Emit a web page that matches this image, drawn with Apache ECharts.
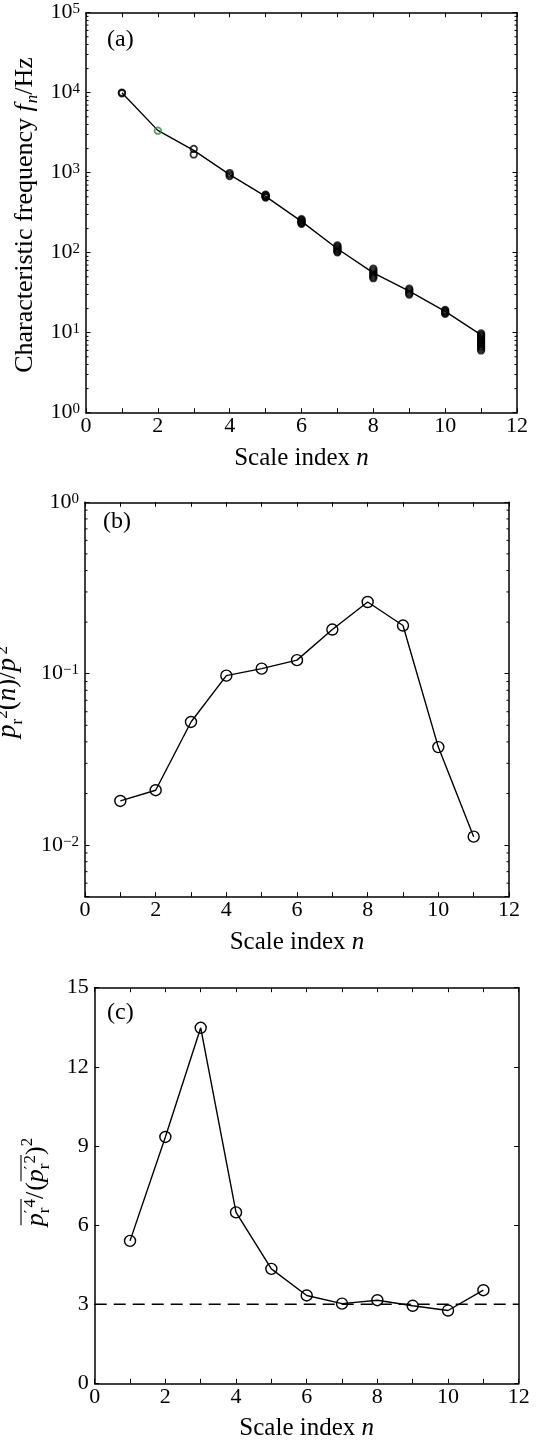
<!DOCTYPE html>
<html>
<head>
<meta charset="utf-8">
<script src="https://cdn.jsdelivr.net/npm/echarts@6/dist/echarts.min.js"></script>
<style>
html,body{margin:0;padding:0;background:#fff;}
#c{width:543px;height:1441px;}
</style>
</head>
<body>
<div id="c"></div>
<script>
// ---------------- data ----------------
const scaleIndex = [1, 2, 3, 4, 5, 6, 7, 8, 9, 10, 11];
const xTickValues = [0, 2, 4, 6, 8, 10, 12];

// (a) characteristic frequency: connecting line (Hz)
const freqLine = [10000, 3380, 1900, 945, 505, 246, 112, 56, 33, 18.5, 9.4];
// (a) individual characteristic frequencies at each scale index [n, Hz]
const freqPoints = [
  [1, 10000], [1, 9850],
  [3, 1980], [3, 1690],
  [4, 990], [4, 945], [4, 905],
  [5, 532], [5, 520], [5, 510], [5, 500], [5, 490],
  [6, 262], [6, 255], [6, 248], [6, 241], [6, 235], [6, 230],
  [7, 123], [7, 119], [7, 115], [7, 111], [7, 108], [7, 104], [7, 101],
  [8, 63], [8, 60], [8, 57], [8, 54.5], [8, 52], [8, 50], [8, 48],
  [9, 35.5], [9, 34], [9, 32.5], [9, 31], [9, 30],
  [10, 19.3], [10, 18.7], [10, 18.2], [10, 17.7], [10, 17.2],
  [11, 9.8], [11, 9.4], [11, 9.1], [11, 8.7], [11, 8.4], [11, 8.0], [11, 7.7],
  [11, 7.4], [11, 7.1], [11, 6.8], [11, 6.6], [11, 6.3], [11, 6.0]
];
const freqPointsGreen = [[2, 3350]];

// (b) energy fraction p_r'^2(n)/p'^2
const energyRatio = [0.0181, 0.0209, 0.0523, 0.0974, 0.107, 0.120, 0.181, 0.262, 0.191, 0.0373, 0.0112];

// (c) flatness factor
const flatness = [5.40, 9.34, 13.48, 6.48, 4.34, 3.33, 3.02, 3.15, 2.94, 2.76, 3.53];
const gaussianLevel = [[0, 3], [12, 3]];
const flatTicks = [0, 3, 6, 9, 12, 15];

// ---------------- styling ----------------
const FAM = '"Liberation Serif", "Times New Roman", serif';
const PRIME_FAM = '"DejaVu Serif", serif';
const TICK_FS = 22;
const NAME_FS = 25;
const BLACK = '#000';

const chart = echarts.init(document.getElementById('c'), null, {renderer: 'canvas'});

const grids = [
  {left: 86, top: 12.7, width: 431, height: 400},
  {left: 85, top: 502.3, width: 424, height: 394.4},
  {left: 94.7, top: 987.7, width: 424, height: 395.6}
];

const nameRich = {
  r: {fontFamily: FAM, fontSize: NAME_FS, color: BLACK},
  i: {fontFamily: FAM, fontSize: NAME_FS, color: BLACK, fontStyle: 'italic'}
};
const digitRich = {
  d: {fontFamily: FAM, fontSize: TICK_FS, color: BLACK}
};

function xAxesFor(g) {
  const base = {
    type: 'value', gridIndex: g, min: 0, max: 12, interval: 1,
    axisLine: {show: true, onZero: false, lineStyle: {color: BLACK, width: 1.5}},
    axisTick: {show: true, inside: true, length: 4.5, lineStyle: {color: BLACK, width: 1}},
    splitLine: {show: false}
  };
  return [
    Object.assign({}, base, {
      position: 'bottom',
      axisLabel: {
        show: true, margin: 3, color: BLACK, fontFamily: FAM, fontSize: TICK_FS, rich: digitRich,
        formatter: v => (xTickValues.indexOf(v) >= 0 ? '{d|' + v + '}' : '')
      },
      name: '{r|Scale index }{i|n}', nameLocation: 'middle', nameGap: 33,
      nameTextStyle: {fontFamily: FAM, fontSize: NAME_FS, color: BLACK, rich: nameRich}
    }),
    Object.assign({}, base, {position: 'top', axisLabel: {show: false}})
  ];
}

const powRich = {
  b: {fontFamily: FAM, fontSize: TICK_FS, color: BLACK},
  s: {fontFamily: FAM, fontSize: 15, color: BLACK, verticalAlign: 'top'}
};
function powLabel(v) {
  const l = Math.log10(v);
  const e = Math.round(l);
  if (Math.abs(l - e) > 1e-6) return '';
  return '{b|10}{s|' + (e < 0 ? '\u2212' + (-e) : e) + '}';
}

function logYAxesFor(g, min, max) {
  const base = {
    type: 'log', logBase: 10, gridIndex: g, min: min, max: max,
    axisLine: {show: true, onZero: false, lineStyle: {color: BLACK, width: 1.5}},
    axisTick: {show: true, inside: true, length: 4.5, lineStyle: {color: BLACK, width: 1}},
    splitLine: {show: false}, minorTick: {show: false}
  };
  return [
    Object.assign({}, base, {
      position: 'left',
      axisLabel: {show: true, margin: 6, formatter: powLabel, rich: powRich,
        color: BLACK, fontFamily: FAM, fontSize: TICK_FS}
    }),
    Object.assign({}, base, {position: 'right', axisLabel: {show: false}})
  ];
}

function linYAxesFor(g) {
  const base = {
    type: 'value', gridIndex: g, min: 0, max: 15, interval: 3,
    axisLine: {show: true, onZero: false, lineStyle: {color: BLACK, width: 1.5}},
    axisTick: {show: true, inside: true, length: 4.5, lineStyle: {color: BLACK, width: 1}},
    splitLine: {show: false}
  };
  return [
    Object.assign({}, base, {
      position: 'left',
      axisLabel: {show: true, margin: 6, color: BLACK, fontFamily: FAM, fontSize: TICK_FS, rich: digitRich,
        formatter: v => (flatTicks.indexOf(v) >= 0 ? '{d|' + v + '}' : '')}
    }),
    Object.assign({}, base, {position: 'right', axisLabel: {show: false}})
  ];
}

const hollow = (size, bw) => ({
  symbol: 'circle', symbolSize: size,
  itemStyle: {color: 'rgba(0,0,0,0)', borderColor: BLACK, borderWidth: bw}
});

const option = {
  animation: false,
  backgroundColor: '#fff',
  textStyle: {fontFamily: FAM, color: BLACK},
  grid: grids.map(g => Object.assign({containLabel: false, outerBoundsMode: 'none'}, g)),
  xAxis: [].concat(xAxesFor(0), xAxesFor(1), xAxesFor(2)),
  yAxis: [].concat(logYAxesFor(0, 1, 100000), logYAxesFor(1, 0.005, 1), linYAxesFor(2)),
  series: [
    {
      type: 'line', xAxisIndex: 0, yAxisIndex: 0, silent: true,
      data: scaleIndex.map((n, i) => [n, freqLine[i]]),
      symbol: 'none', lineStyle: {color: BLACK, width: 1.4}, z: 2
    },
    Object.assign({
      type: 'scatter', xAxisIndex: 0, yAxisIndex: 0, silent: true, z: 3,
      data: freqPoints
    }, hollow(6.5, 1.8)),
    {
      type: 'scatter', xAxisIndex: 0, yAxisIndex: 0, silent: true, z: 3,
      data: freqPointsGreen, symbol: 'circle', symbolSize: 6.5,
      itemStyle: {color: 'rgba(0,0,0,0)', borderColor: '#2e8b3e', borderWidth: 1.8}
    },
    Object.assign({
      type: 'line', xAxisIndex: 2, yAxisIndex: 2, silent: true,
      data: scaleIndex.map((n, i) => [n, energyRatio[i]]),
      showSymbol: true, lineStyle: {color: BLACK, width: 1.4}
    }, hollow(11, 1.4)),
    {
      type: 'line', xAxisIndex: 4, yAxisIndex: 4, silent: true,
      data: gaussianLevel, symbol: 'none',
      lineStyle: {color: BLACK, width: 1.4, type: [12, 7]}
    },
    Object.assign({
      type: 'line', xAxisIndex: 4, yAxisIndex: 4, silent: true,
      data: scaleIndex.map((n, i) => [n, flatness[i]]),
      showSymbol: true, lineStyle: {color: BLACK, width: 1.4}
    }, hollow(11, 1.4))
  ]
};

chart.setOption(option);

// ---------------- extra graphics: minor log ticks, panel letters, y titles ----------------
const graphics = [];

function minorTicks(xIdx, yIdx, minV, maxV) {
  const xl = chart.convertToPixel({xAxisIndex: xIdx}, 0);
  const xr = chart.convertToPixel({xAxisIndex: xIdx}, 12);
  const d0 = Math.floor(Math.log10(minV)), d1 = Math.ceil(Math.log10(maxV));
  for (let d = d0; d < d1; d++) {
    for (let k = 2; k <= 9; k++) {
      const v = k * Math.pow(10, d);
      if (v <= minV * 1.0001 || v >= maxV) continue;
      const y = chart.convertToPixel({yAxisIndex: yIdx}, v);
      graphics.push({type: 'line', silent: true, shape: {x1: xl, y1: y, x2: xl + 2.5, y2: y},
        style: {stroke: BLACK, lineWidth: 1}});
      graphics.push({type: 'line', silent: true, shape: {x1: xr - 2.5, y1: y, x2: xr, y2: y},
        style: {stroke: BLACK, lineWidth: 1}});
    }
  }
}
minorTicks(0, 0, 1, 100000);
minorTicks(2, 2, 0.005, 1);

// panel letters
[['(a)', 107, 40], ['(b)', 103, 522], ['(c)', 107, 1013]].forEach(p => {
  graphics.push({type: 'text', silent: true, x: p[1], y: p[2],
    style: {text: p[0], font: '24px ' + FAM, fill: BLACK,
      align: 'left', verticalAlign: 'middle', textAlign: 'left', textVerticalAlign: 'middle'}});
});

// rotated y titles built from text pieces
const mctx = document.createElement('canvas').getContext('2d');
function fontOf(p) { return (p.it ? 'italic ' : '') + p.s + 'px ' + (p.fam || FAM); }
function buildTitle(parts, baseX, centerY, overlines, olY) {
  let x = 0, prevX = 0, prevW = 0;
  const placed = [];
  parts.forEach(p => {
    mctx.font = fontOf(p);
    const w = mctx.measureText(p.t).width + (p.gap || 0);
    let px;
    if (p.stack) {
      px = prevX;
      const adv = Math.max(prevW, w);
      x = prevX + adv; prevW = adv;
    } else {
      px = x; prevX = x; prevW = w; x += w;
    }
    placed.push({p: p, px: px, w: w});
  });
  const W = x;
  const children = placed.map(o => ({
    type: 'text', silent: true, x: o.px - W / 2, y: (o.p.b || 0) - 0.32 * o.p.s,
    style: {text: o.p.t, font: fontOf(o.p), fill: BLACK,
      align: 'left', verticalAlign: 'middle', textAlign: 'left', textVerticalAlign: 'middle'}
  }));
  (overlines || []).forEach(r => {
    let x1 = Infinity, x2 = -Infinity;
    for (let k = r[0]; k <= r[1]; k++) {
      x1 = Math.min(x1, placed[k].px);
      x2 = Math.max(x2, placed[k].px + placed[k].w);
    }
    children.push({type: 'line', silent: true,
      shape: {x1: x1 - W / 2 + 1, y1: olY, x2: x2 - W / 2, y2: olY},
      style: {stroke: BLACK, lineWidth: 1.1}});
  });
  graphics.push({type: 'group', x: baseX, y: centerY, rotation: Math.PI / 2, children: children});
}

buildTitle([
  {t: 'Characteristic frequency ', s: 26},
  {t: 'f', s: 26, it: 1, gap: 1},
  {t: 'n', s: 17, it: 1, b: 5},
  {t: '/Hz', s: 26}
], 33, 215);

buildTitle([
  {t: 'p', s: 27, it: 1},
  {t: '\u2032', s: 15, b: -9, fam: PRIME_FAM},
  {t: 'r', s: 17, b: 6, stack: 1},
  {t: '2', s: 17, b: -9},
  {t: '(', s: 27}, {t: 'n', s: 27, it: 1}, {t: ')/', s: 27},
  {t: 'p', s: 27, it: 1},
  {t: '\u2032', s: 15, b: -9, fam: PRIME_FAM},
  {t: '2', s: 17, b: -9}
], 17, 692);

buildTitle([
  {t: 'p', s: 26, it: 1},
  {t: '\u2032', s: 15, b: -8, fam: PRIME_FAM},
  {t: 'r', s: 17, b: 6, stack: 1},
  {t: '4', s: 17, b: -8},
  {t: '/', s: 26, gap: 1}, {t: '(', s: 26},
  {t: 'p', s: 26, it: 1},
  {t: '\u2032', s: 15, b: -8, fam: PRIME_FAM},
  {t: 'r', s: 17, b: 6, stack: 1},
  {t: '2', s: 17, b: -8},
  {t: ')', s: 26},
  {t: '2', s: 17, b: -11}
], 44, 1182, [[0, 3], [6, 9]], -23);

chart.setOption({graphic: graphics});
</script>
</body>
</html>
